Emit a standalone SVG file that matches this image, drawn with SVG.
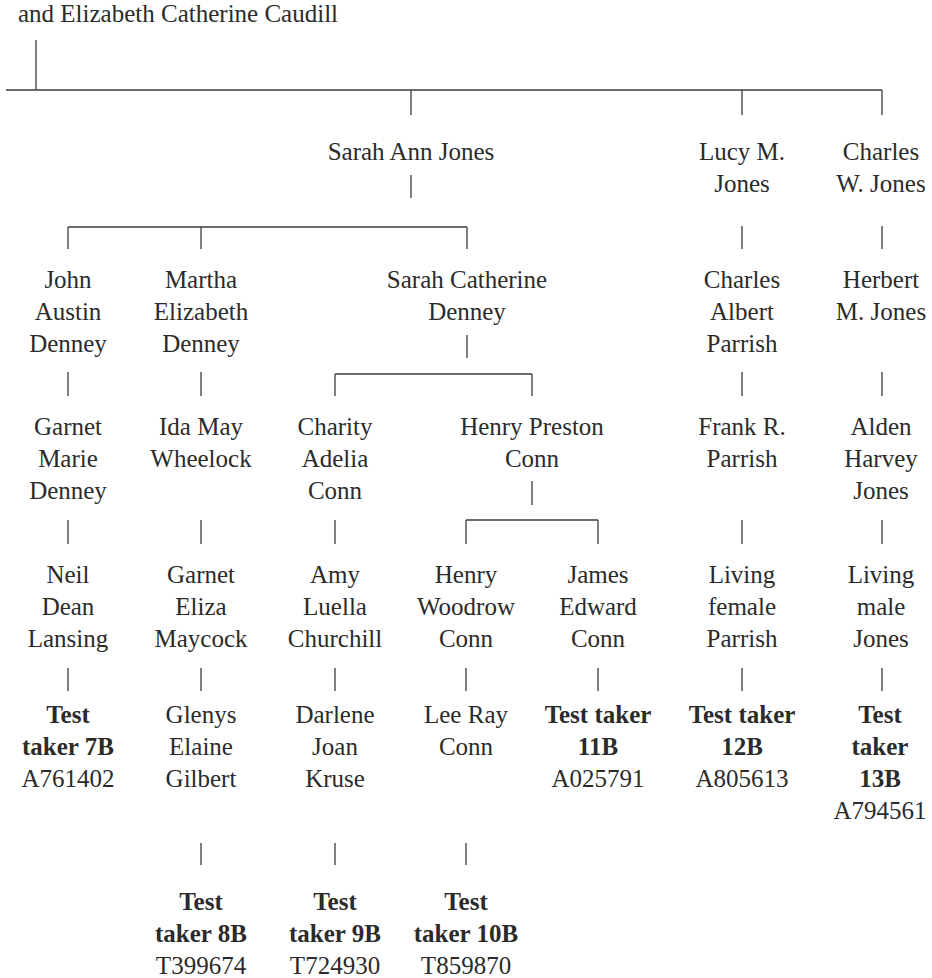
<svg xmlns="http://www.w3.org/2000/svg" width="932" height="978" viewBox="0 0 932 978">
<style>
text{font-family:"Liberation Serif","Times New Roman",serif;font-size:25px;fill:#2b2b2b;text-anchor:middle}
.b{font-weight:bold}
.l{text-anchor:start}
#connectors line{stroke:#3c3c3c;stroke-width:1.3;fill:none}
</style>
<rect width="932" height="978" fill="#ffffff"/>
<g id="connectors">
<line x1="36" y1="40" x2="36" y2="90"/>
<line x1="6" y1="90" x2="882" y2="90"/>
<line x1="411" y1="90" x2="411" y2="115"/>
<line x1="742" y1="90" x2="742" y2="115"/>
<line x1="882" y1="90" x2="882" y2="115"/>
<line x1="411" y1="175" x2="411" y2="198"/>
<line x1="68" y1="227" x2="467" y2="227"/>
<line x1="68" y1="227" x2="68" y2="249"/>
<line x1="201" y1="227" x2="201" y2="249"/>
<line x1="467" y1="227" x2="467" y2="249"/>
<line x1="742" y1="226" x2="742" y2="249"/>
<line x1="882" y1="226" x2="882" y2="249"/>
<line x1="467" y1="335" x2="467" y2="358"/>
<line x1="335" y1="374" x2="532" y2="374"/>
<line x1="335" y1="374" x2="335" y2="396"/>
<line x1="532" y1="374" x2="532" y2="396"/>
<line x1="68" y1="372" x2="68" y2="396"/>
<line x1="201" y1="372" x2="201" y2="396"/>
<line x1="742" y1="372" x2="742" y2="396"/>
<line x1="882" y1="372" x2="882" y2="396"/>
<line x1="532" y1="481" x2="532" y2="505"/>
<line x1="466" y1="520" x2="598" y2="520"/>
<line x1="466" y1="520" x2="466" y2="544"/>
<line x1="598" y1="520" x2="598" y2="544"/>
<line x1="68" y1="520" x2="68" y2="544"/>
<line x1="201" y1="520" x2="201" y2="544"/>
<line x1="335" y1="520" x2="335" y2="544"/>
<line x1="742" y1="520" x2="742" y2="544"/>
<line x1="882" y1="520" x2="882" y2="544"/>
<line x1="68" y1="668" x2="68" y2="691"/>
<line x1="201" y1="668" x2="201" y2="691"/>
<line x1="335" y1="668" x2="335" y2="691"/>
<line x1="466" y1="668" x2="466" y2="691"/>
<line x1="598" y1="668" x2="598" y2="691"/>
<line x1="742" y1="668" x2="742" y2="691"/>
<line x1="882" y1="668" x2="882" y2="691"/>
<line x1="201" y1="843" x2="201" y2="865"/>
<line x1="335" y1="843" x2="335" y2="865"/>
<line x1="466" y1="843" x2="466" y2="865"/>
</g>
<g id="n-top"><text class="l" x="18" y="22">and Elizabeth Catherine Caudill</text></g>
<g id="n-sarah-ann"><text x="411" y="160">Sarah Ann Jones</text></g>
<g id="n-lucy"><text x="742" y="160">Lucy M.</text><text x="742" y="192">Jones</text></g>
<g id="n-charles-w"><text x="881" y="160">Charles</text><text x="881" y="192">W. Jones</text></g>
<g id="n-john"><text x="68" y="288">John</text><text x="68" y="320">Austin</text><text x="68" y="352">Denney</text></g>
<g id="n-martha"><text x="201" y="288">Martha</text><text x="201" y="320">Elizabeth</text><text x="201" y="352">Denney</text></g>
<g id="n-sarah-cath"><text x="467" y="288">Sarah Catherine</text><text x="467" y="320">Denney</text></g>
<g id="n-charles-albert"><text x="742" y="288">Charles</text><text x="742" y="320">Albert</text><text x="742" y="352">Parrish</text></g>
<g id="n-herbert"><text x="881" y="288">Herbert</text><text x="881" y="320">M. Jones</text></g>
<g id="n-garnet-marie"><text x="68" y="435">Garnet</text><text x="68" y="467">Marie</text><text x="68" y="499">Denney</text></g>
<g id="n-ida"><text x="201" y="435">Ida May</text><text x="201" y="467">Wheelock</text></g>
<g id="n-charity"><text x="335" y="435">Charity</text><text x="335" y="467">Adelia</text><text x="335" y="499">Conn</text></g>
<g id="n-henry-preston"><text x="532" y="435">Henry Preston</text><text x="532" y="467">Conn</text></g>
<g id="n-frank"><text x="742" y="435">Frank R.</text><text x="742" y="467">Parrish</text></g>
<g id="n-alden"><text x="881" y="435">Alden</text><text x="881" y="467">Harvey</text><text x="881" y="499">Jones</text></g>
<g id="n-neil"><text x="68" y="583">Neil</text><text x="68" y="615">Dean</text><text x="68" y="647">Lansing</text></g>
<g id="n-garnet-eliza"><text x="201" y="583">Garnet</text><text x="201" y="615">Eliza</text><text x="201" y="647">Maycock</text></g>
<g id="n-amy"><text x="335" y="583">Amy</text><text x="335" y="615">Luella</text><text x="335" y="647">Churchill</text></g>
<g id="n-henry-woodrow"><text x="466" y="583">Henry</text><text x="466" y="615">Woodrow</text><text x="466" y="647">Conn</text></g>
<g id="n-james"><text x="598" y="583">James</text><text x="598" y="615">Edward</text><text x="598" y="647">Conn</text></g>
<g id="n-living-female"><text x="742" y="583">Living</text><text x="742" y="615">female</text><text x="742" y="647">Parrish</text></g>
<g id="n-living-male"><text x="881" y="583">Living</text><text x="881" y="615">male</text><text x="881" y="647">Jones</text></g>
<g id="n-tt7"><text class="b" x="68" y="723">Test</text><text class="b" x="68" y="755">taker 7B</text><text x="68" y="787">A761402</text></g>
<g id="n-glenys"><text x="201" y="723">Glenys</text><text x="201" y="755">Elaine</text><text x="201" y="787">Gilbert</text></g>
<g id="n-darlene"><text x="335" y="723">Darlene</text><text x="335" y="755">Joan</text><text x="335" y="787">Kruse</text></g>
<g id="n-lee"><text x="466" y="723">Lee Ray</text><text x="466" y="755">Conn</text></g>
<g id="n-tt11"><text class="b" x="598" y="723">Test taker</text><text class="b" x="598" y="755">11B</text><text x="598" y="787">A025791</text></g>
<g id="n-tt12"><text class="b" x="742" y="723">Test taker</text><text class="b" x="742" y="755">12B</text><text x="742" y="787">A805613</text></g>
<g id="n-tt13"><text class="b" x="880" y="723">Test</text><text class="b" x="880" y="755">taker</text><text class="b" x="880" y="787">13B</text><text x="880" y="819">A794561</text></g>
<g id="n-tt8"><text class="b" x="201" y="910">Test</text><text class="b" x="201" y="942">taker 8B</text><text x="201" y="974">T399674</text></g>
<g id="n-tt9"><text class="b" x="335" y="910">Test</text><text class="b" x="335" y="942">taker 9B</text><text x="335" y="974">T724930</text></g>
<g id="n-tt10"><text class="b" x="466" y="910">Test</text><text class="b" x="466" y="942">taker 10B</text><text x="466" y="974">T859870</text></g>
</svg>
